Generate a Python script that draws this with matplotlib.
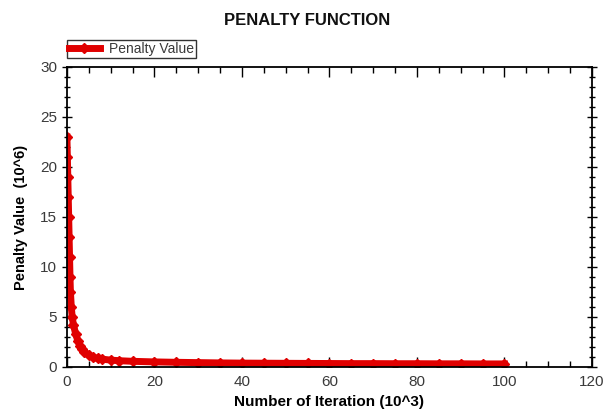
import matplotlib.pyplot as plt
from matplotlib.ticker import MultipleLocator

plt.rcParams['font.family'] = ['Liberation Sans', 'DejaVu Sans']

# iterations (10^3) and penalty values (10^6)
iterations = [0, 0.1, 0.2, 0.3, 0.4, 0.5, 0.6, 0.7, 0.8, 1.0, 1.2, 1.5, 2.0,
              2.5, 3.0, 3.5, 4.0, 5.0, 6.0, 7.0, 8.0, 10, 12, 15, 20, 25, 30,
              35, 40, 45, 50, 55, 60, 65, 70, 75, 80, 85, 90, 95, 100]
penalty = [23.0, 21.0, 19.0, 17.0, 15.0, 13.0, 11.0, 9.0, 7.5, 6.0, 5.0, 4.2, 3.3,
           2.6, 2.1, 1.8, 1.5, 1.15, 0.95, 0.85, 0.78, 0.68, 0.62, 0.56, 0.5, 0.46, 0.43,
           0.4, 0.38, 0.37, 0.36, 0.35, 0.34, 0.33, 0.33, 0.32, 0.32, 0.31, 0.31, 0.3, 0.3]

fig = plt.figure(figsize=(6.14, 4.16), dpi=100)
ax = fig.add_axes([0.109, 0.118, 0.855, 0.721])

ax.plot(iterations, penalty, color='#e00000', lw=5, marker='D', ms=5,
        mec='#e00000', mfc='#e00000', label='Penalty Value')

ax.set_xlim(0, 120)
ax.set_ylim(0, 30)
ax.xaxis.set_major_locator(MultipleLocator(20))
ax.xaxis.set_minor_locator(MultipleLocator(5))
ax.yaxis.set_major_locator(MultipleLocator(5))
ax.yaxis.set_minor_locator(MultipleLocator(1))
ax.tick_params(which='both', direction='in', top=True, right=True,
               labelsize=11, labelcolor='#3a3a3a', width=1)
ax.tick_params(axis='y', which='both', direction='inout')
ax.tick_params(which='major', length=7)
ax.tick_params(which='minor', length=4)
ax.tick_params(axis='x', pad=6)
for s in ax.spines.values():
    s.set_linewidth(1.3)

fig.text(0.5, 1 - 25 / 416, 'PENALTY FUNCTION', ha='center', va='baseline',
         fontsize=12, fontweight='bold', color='#111111')
ax.set_xlabel('Number of Iteration (10^3)', fontsize=11, fontweight='bold', labelpad=4)
ax.set_ylabel('Penalty Value  (10^6)', fontsize=10.5, fontweight='bold', labelpad=9)

leg = ax.legend(loc='lower left', bbox_to_anchor=(0.0, 1.03), fontsize=10,
                frameon=True, fancybox=False, edgecolor='black', borderpad=0.15,
                handlelength=2.2, handletextpad=0.7, borderaxespad=0,
                labelcolor='#3a3a3a')
leg.get_frame().set_linewidth(1)

fig.savefig('out.png', dpi=100)
